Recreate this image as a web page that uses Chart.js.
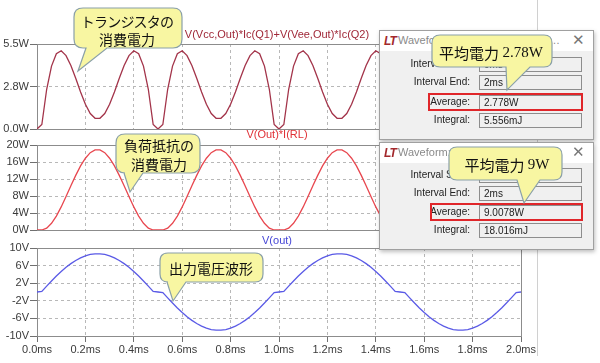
<!DOCTYPE html>
<html lang="ja">
<head>
<meta charset="UTF-8">
<title>トランジスタと負荷抵抗の消費電力</title>
<script src="https://cdn.jsdelivr.net/npm/chart.js"></script>
<style>
  body { margin: 0; background: #fff; font-family: Arial, "Liberation Sans", sans-serif; }
  #wrap { position: relative; width: 600px; height: 363px; overflow: hidden; background: #fff; }
  #wrap canvas { position: absolute; left: 0; top: 0; }
  .edge { position: absolute; left: 537px; top: 0; width: 1px; height: 356px; background: #d0d0d0; }
  .dlg { position: absolute; left: 379px; width: 213px; background: #f0f0f0; border: 1px solid #a0a0a0; box-shadow: 1px 2px 4px rgba(0,0,0,.25); }
  .dlg .bar { height: 20px; background: #fff; position: relative; }
  .dlg .logo { position: absolute; left: 4px; top: 3px; font: italic bold 12px Arial, sans-serif; color: #a3282c; letter-spacing: -1px; }
  .dlg .ttl { position: absolute; left: 18px; top: 3px; width: 166px; font-size: 11px; color: #8a8a8a; white-space: nowrap; overflow: hidden; text-overflow: ellipsis; }
  .dlg .x { position: absolute; right: 8px; top: 0; font-size: 15px; color: #777; }
  .row { position: absolute; left: 0; width: 100%; height: 15px; }
  .row .lab { position: absolute; right: 123px; top: 1px; font-size: 10px; color: #222; }
  .row .fld { position: absolute; left: 99px; width: 103px; height: 15px; border: 1px solid #8d8d8d; background: #f0f0f0; font-size: 10px; padding-left: 4px; box-sizing: border-box; line-height: 13px; color: #222; }
  .hl { position: absolute; border: 2px solid #e0262a; box-sizing: border-box; }
  svg { position: absolute; left: 0; top: 0; }
</style>
</head>
<body>
<div id="wrap">
  <div class="edge"></div>
  <canvas id="c1" width="600" height="363"></canvas>
  <canvas id="c2" width="600" height="363"></canvas>
  <canvas id="c3" width="600" height="363"></canvas>

  <div class="dlg" style="top:30px;height:108px">
    <div class="bar"><span class="logo">LT</span><span class="ttl">Waveform: V(Vcc,Out)*Ic(Q1)+V(Vee,Out)*Ic(Q2)</span><span class="x">✕</span></div>
    <div class="row" style="top:26px"><span class="lab">Interval Start:</span><span class="fld">0ms</span></div>
    <div class="row" style="top:44px"><span class="lab">Interval End:</span><span class="fld">2ms</span></div>
    <div class="row" style="top:64px"><span class="lab">Average:</span><span class="fld">2.778W</span></div>
    <div class="row" style="top:82px"><span class="lab">Integral:</span><span class="fld">5.556mJ</span></div>
    <div class="hl" style="left:48px;top:62px;width:155px;height:18px"></div>
  </div>

  <div class="dlg" style="top:142px;height:106px">
    <div class="bar"><span class="logo">LT</span><span class="ttl">Waveform: V(Out)*I(RL)</span><span class="x">✕</span></div>
    <div class="row" style="top:25px"><span class="lab">Interval Start:</span><span class="fld">0ms</span></div>
    <div class="row" style="top:43px"><span class="lab">Interval End:</span><span class="fld">2ms</span></div>
    <div class="row" style="top:62px"><span class="lab">Average:</span><span class="fld">9.0078W</span></div>
    <div class="row" style="top:80px"><span class="lab">Integral:</span><span class="fld">18.016mJ</span></div>
    <div class="hl" style="left:50px;top:60px;width:153px;height:18px"></div>
  </div>

  <svg width="600" height="363" font-family="'Noto Sans CJK JP', sans-serif">
    <g fill="#f8f6a2" stroke="#8aa0a8" stroke-width="1.2">
      <path d="M83 8 H173 Q182 8 182 17 V39 Q182 48 173 48 H107 L78 71 L86 48 H83 Q74 48 74 39 V17 Q74 8 83 8 Z"/>
      <path d="M125 134 H191 Q200 134 200 143 V164 Q200 173 191 173 H143 L130 192 L124 173 H125 Q116 173 116 164 V143 Q116 134 125 134 Z"/>
      <path d="M168 253 H255 Q263 253 263 261 V274 Q263 282 255 282 H186 L173 301 L167 282 H168 Q160 282 160 274 V261 Q160 253 168 253 Z"/>
      <path d="M440 35 H544 Q552 35 552 43 V59 Q552 67 544 67 H530 L507 90 L506 67 H440 Q432 67 432 59 V43 Q432 35 440 35 Z"/>
      <path d="M457 147 H554 Q562 147 562 155 V172 Q562 180 554 180 H540 L524 203 L517 180 H457 Q449 180 449 172 V155 Q449 147 457 147 Z"/>
    </g>
    <g fill="#111" font-size="14" text-anchor="middle" dominant-baseline="central">
      <text x="127" y="21" letter-spacing="-0.8">トランジスタの</text>
      <text x="127" y="39">消費電力</text>
      <text x="159" y="145">負荷抵抗の</text>
      <text x="159" y="164">消費電力</text>
      <text x="211" y="268">出力電圧波形</text>
      <text x="491" y="52" font-size="15">平均電力 <tspan font-family="'Liberation Serif', serif">2.78W</tspan></text>
      <text x="507" y="164" font-size="15">平均電力 <tspan font-family="'Liberation Serif', serif">9W</tspan></text>
    </g>
  </svg>
</div>

<script>
  // time axis (ms)
  const tMs = [
    0.00, 0.02, 0.04, 0.06, 0.08, 0.10, 0.12, 0.14, 0.16, 0.18,
    0.20, 0.22, 0.24, 0.26, 0.28, 0.30, 0.32, 0.34, 0.36, 0.38,
    0.40, 0.42, 0.44, 0.46, 0.48, 0.50, 0.52, 0.54, 0.56, 0.58,
    0.60, 0.62, 0.64, 0.66, 0.68, 0.70, 0.72, 0.74, 0.76, 0.78,
    0.80, 0.82, 0.84, 0.86, 0.88, 0.90, 0.92, 0.94, 0.96, 0.98,
    1.00, 1.02, 1.04, 1.06, 1.08, 1.10, 1.12, 1.14, 1.16, 1.18,
    1.20, 1.22, 1.24, 1.26, 1.28, 1.30, 1.32, 1.34, 1.36, 1.38,
    1.40, 1.42, 1.44, 1.46, 1.48, 1.50, 1.52, 1.54, 1.56, 1.58,
    1.60, 1.62, 1.64, 1.66, 1.68, 1.70, 1.72, 1.74, 1.76, 1.78,
    1.80, 1.82, 1.84, 1.86, 1.88, 1.90, 1.92, 1.94, 1.96, 1.98,
    2.00
  ];

  // V(Vcc,Out)*Ic(Q1)+V(Vee,Out)*Ic(Q2)  [W]
  const pTr = [0,
    0.29, 2.57, 4.07, 4.87, 5.06, 4.75, 4.11, 3.28, 2.39, 1.60, 1.00, 0.69, 0.69, 1.00, 1.60, 2.39, 3.28, 4.11, 4.75, 5.06, 4.87, 4.07, 2.57, 0.29, 0,
    0.29, 2.57, 4.07, 4.87, 5.06, 4.75, 4.11, 3.28, 2.39, 1.60, 1.00, 0.69, 0.69, 1.00, 1.60, 2.39, 3.28, 4.11, 4.75, 5.06, 4.87, 4.07, 2.57, 0.29, 0,
    0.29, 2.57, 4.07, 4.87, 5.06, 4.75, 4.11, 3.28, 2.39, 1.60, 1.00, 0.69, 0.69, 1.00, 1.60, 2.39, 3.28, 4.11, 4.75, 5.06, 4.87, 4.07, 2.57, 0.29, 0,
    0.29, 2.57, 4.07, 4.87, 5.06, 4.75, 4.11, 3.28, 2.39, 1.60, 1.00, 0.69, 0.69, 1.00, 1.60, 2.39, 3.28, 4.11, 4.75, 5.06, 4.87, 4.07, 2.57, 0.29, 0
  ];

  // V(Out)*I(RL)  [W]
  const pRL = [0,
    0.00, 0.45, 1.58, 3.28, 5.43, 7.87, 10.40, 12.85, 15.09, 16.89, 18.19, 18.84, 18.84, 18.19, 16.89, 15.09, 12.85, 10.40, 7.87, 5.43, 3.28, 1.58, 0.45, 0.00, 0,
    0.00, 0.45, 1.58, 3.28, 5.43, 7.87, 10.40, 12.85, 15.09, 16.89, 18.19, 18.84, 18.84, 18.19, 16.89, 15.09, 12.85, 10.40, 7.87, 5.43, 3.28, 1.58, 0.45, 0.00, 0,
    0.00, 0.45, 1.58, 3.28, 5.43, 7.87, 10.40, 12.85, 15.09, 16.89, 18.19, 18.84, 18.84, 18.19, 16.89, 15.09, 12.85, 10.40, 7.87, 5.43, 3.28, 1.58, 0.45, 0.00, 0,
    0.00, 0.45, 1.58, 3.28, 5.43, 7.87, 10.40, 12.85, 15.09, 16.89, 18.19, 18.84, 18.84, 18.19, 16.89, 15.09, 12.85, 10.40, 7.87, 5.43, 3.28, 1.58, 0.45, 0.00, 0
  ];

  // V(out)  [V]
  const vOut = [0,
    0.13, 1.34, 2.51, 3.62, 4.66, 5.61, 6.45, 7.17, 7.77, 8.22, 8.53, 8.68, 8.68, 8.53, 8.22, 7.77, 7.17, 6.45, 5.61, 4.66, 3.62, 2.51, 1.34, 0.13, 0,
    -0.13, -1.34, -2.51, -3.62, -4.66, -5.61, -6.45, -7.17, -7.77, -8.22, -8.53, -8.68, -8.68, -8.53, -8.22, -7.77, -7.17, -6.45, -5.61, -4.66, -3.62, -2.51, -1.34, -0.13, 0,
    0.13, 1.34, 2.51, 3.62, 4.66, 5.61, 6.45, 7.17, 7.77, 8.22, 8.53, 8.68, 8.68, 8.53, 8.22, 7.77, 7.17, 6.45, 5.61, 4.66, 3.62, 2.51, 1.34, 0.13, 0,
    -0.13, -1.34, -2.51, -3.62, -4.66, -5.61, -6.45, -7.17, -7.77, -8.22, -8.53, -8.68, -8.68, -8.53, -8.22, -7.77, -7.17, -6.45, -5.61, -4.66, -3.62, -2.51, -1.34, -0.13, 0
  ];

  const xTicks = [0, 0.2, 0.4, 0.6, 0.8, 1.0, 1.2, 1.4, 1.6, 1.8, 2.0];
  const xTickLabels = ['0.0ms', '0.2ms', '0.4ms', '0.6ms', '0.8ms', '1.0ms', '1.2ms', '1.4ms', '1.6ms', '1.8ms', '2.0ms'];
  const y1Ticks = [0, 2.75, 5.5];
  const y1Labels = ['0.0W', '2.8W', '5.5W'];
  const y2Ticks = [0, 4, 8, 12, 16, 20];
  const y2Labels = ['0W', '4W', '8W', '12W', '16W', '20W'];
  const y3Ticks = [-10, -6, -2, 2, 6, 10];
  const y3Labels = ['-10V', '-6V', '-2V', '2V', '6V', '10V'];

  Chart.defaults.font.family = 'Arial, "Liberation Sans", sans-serif';
  Chart.defaults.font.size = 11;
  Chart.defaults.color = '#3a3a3a';

  // pane frame + trace name above it
  const paneDeco = {
    id: 'paneDeco',
    beforeDatasetsDraw(chart, args, opts) {
      const { ctx, chartArea: a } = chart;
      ctx.save();
      ctx.strokeStyle = '#8c8c8c';
      ctx.lineWidth = 1;
      ctx.strokeRect(Math.round(a.left) + 0.5, Math.round(a.top) + 0.5,
        Math.round(a.right - a.left), Math.round(a.bottom - a.top));
      ctx.fillStyle = opts.color;
      ctx.font = '11px Arial, "Liberation Sans", sans-serif';
      ctx.textAlign = 'center';
      ctx.textBaseline = 'middle';
      ctx.fillText(opts.text, (a.left + a.right) / 2 - 2, a.top - opts.gap);
      ctx.restore();
    }
  };

  function makePane(id, ys, color, yMin, yMax, yTicks, yLabels, top, bottom, name, nameColor, gap, showX) {
    return new Chart(document.getElementById(id), {
      type: 'line',
      data: {
        datasets: [{
          data: tMs.map((t, i) => ({ x: t, y: ys[i] })),
          borderColor: color,
          borderWidth: 1.3,
          pointRadius: 0,
          tension: 0
        }]
      },
      plugins: [paneDeco],
      options: {
        responsive: false,
        animation: false,
        events: [],
        layout: { padding: { left: 0, top: top, right: 79, bottom: 0 } },
        plugins: {
          legend: { display: false },
          tooltip: { enabled: false },
          paneDeco: { text: name, color: nameColor, gap: gap }
        },
        scales: {
          x: {
            type: 'linear',
            min: 0,
            max: 2,
            afterBuildTicks: s => { s.ticks = xTicks.map(v => ({ value: v })); },
            afterFit: s => { s.height = 363 - bottom; },
            grid: { color: '#b8b8b8', drawTicks: showX, tickLength: 6, tickColor: '#707070' },
            border: { display: false, dash: [3, 3] },
            ticks: {
              display: showX,
              autoSkip: false,
              maxRotation: 0,
              padding: 1,
              callback: (v, i) => xTickLabels[i]
            }
          },
          y: {
            min: yMin,
            max: yMax,
            afterBuildTicks: s => { s.ticks = yTicks.map(v => ({ value: v })); },
            afterFit: s => { s.width = 37; },
            grid: { color: '#b8b8b8', tickLength: 7, tickColor: '#707070' },
            border: { display: false, dash: [3, 3] },
            ticks: { padding: 1, callback: (v, i) => yLabels[i] }
          }
        }
      }
    });
  }

  makePane('c1', pTr, '#a3344a', 0, 5.5, y1Ticks, y1Labels, 44, 129,
    'V(Vcc,Out)*Ic(Q1)+V(Vee,Out)*Ic(Q2)', '#a02838', 9, false);
  makePane('c2', pRL, '#e8474f', 0, 20, y2Ticks, y2Labels, 145, 230,
    'V(Out)*I(RL)', '#e03036', 10, false);
  makePane('c3', vOut, '#5a5ae6', -10, 10, y3Ticks, y3Labels, 248, 336,
    'V(out)', '#4646d6', 7, true);
</script>
</body>
</html>
